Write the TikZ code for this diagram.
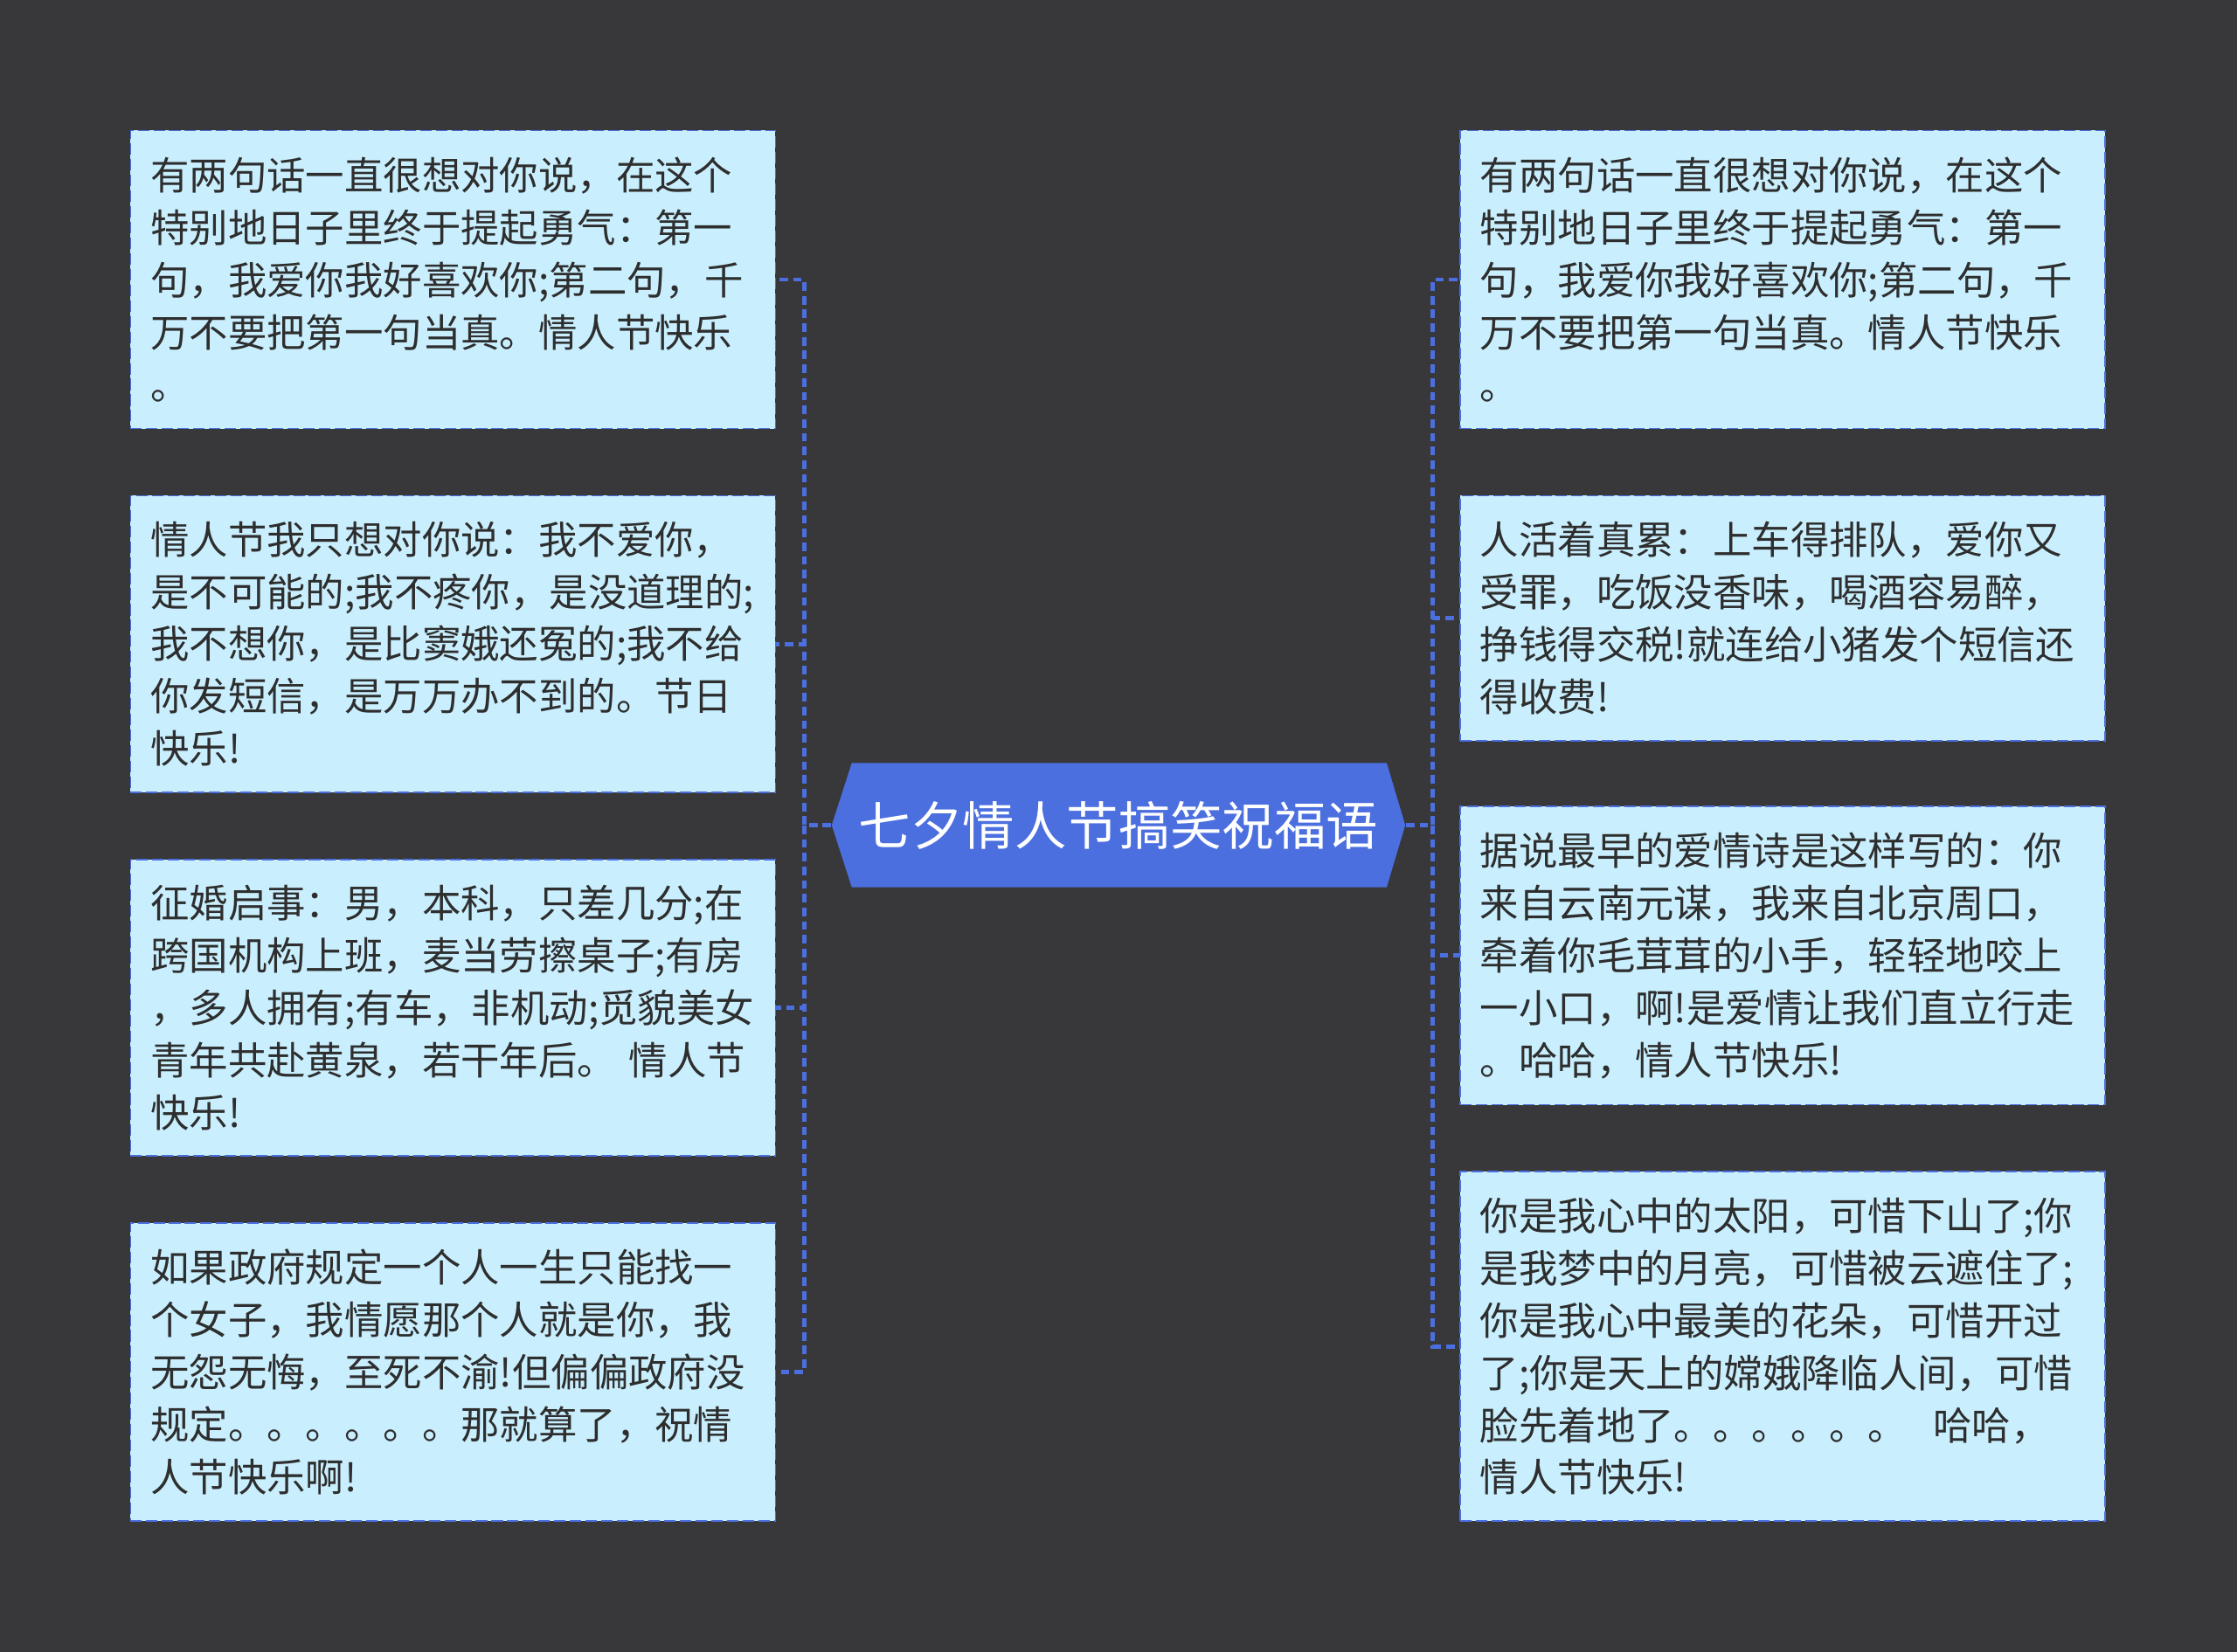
\documentclass[tikz,border=0pt]{standalone}
\usepackage{fontspec}
\setmainfont{Noto Sans CJK SC}
\usetikzlibrary{positioning}
\definecolor{canvasgray}{HTML}{38373A}
\definecolor{memofill}{HTML}{C9EFFE}
\definecolor{twigblue}{HTML}{4B6FDE}
\definecolor{rootblue}{HTML}{4C6FE0}
\definecolor{memoink}{HTML}{2E2E2E}

\begin{document}
\begin{tikzpicture}[x=0.5pt,y=-0.5pt,
 memobox/.style={draw=twigblue,line width=.5pt,dash pattern=on 4pt off 1.5pt,fill=memofill,text=memoink,
  anchor=north west,minimum width=226pt,text width=212pt,inner xsep=7pt,inner ysep=0pt,align=left,
  font=\fontsize{13.6}{18.35}\selectfont},
 twig/.style={draw=twigblue,line width=1.5pt,dash pattern=on 3pt off 1.8pt},
 roottext/.style={text=white,minimum width=201pt,minimum height=43.5pt,inner sep=0pt,
  font=\fontsize{18.2}{22}\selectfont}]
\useasboundingbox (0,0) rectangle (1568,1158);
\fill[canvasgray] (0,0) rectangle (1568,1158);
% centre
\fill[rootblue] (583,578.5) -- (597,535) -- (972,535) -- (985,578.5) -- (972,622) -- (597,622) -- cycle;
\node[roottext] (root) at (784,578.5) {七夕情人节搞笑祝福语};
% left side
\node[memobox,minimum height=104.5pt] (l1) at (91,91) {有两句话一直很想对你说，在这个\\特别地日子里终于提起勇气：第一\\句，我爱你我好喜欢你;第二句，千\\万不要把第一句当真。情人节快乐\\。};
\node[memobox,minimum height=104pt] (l2) at (91,347) {情人节我只想对你说：我不爱你，\\是不可能的;我不疼你，是没道理的;\\我不想你，是比窦娥还冤的;我不给\\你发短信，是万万办不到的。节日\\快乐!};
\node[memobox,minimum height=104pt] (l3) at (91,602) {征婚启事：男，本科，只差几分;在\\跨国机构上班，麦当劳擦桌子;有房\\，多人拥有;有车，非机动;觅貌美女\\青年共赴黄泉，若干年后。 情人节\\快乐!};
\node[memobox,minimum height=104.5pt] (l4) at (91,857) {如果政府规定一个人一生只能找一\\个女子，我情愿那个人就是你，我\\无怨无悔，至死不渝!但偏偏政府没\\规定。。。。。。那就算了，祝情\\人节快乐啊!};
% right side
\node[memobox,minimum height=104.5pt] (r1) at (1023,91) {有两句话一直很想对你说，在这个\\特别地日子里终于提起勇气：第一\\句，我爱你我好喜欢你;第二句，千\\万不要把第一句当真。情人节快乐\\。};
\node[memobox,minimum height=86pt] (r2) at (1023,347) {人活着真累：上车得排队，爱你又\\受罪，吃饭没香味，喝酒容易醉，\\挣钱得交税!就连给小猪发个短信还\\得收费!};
\node[memobox,minimum height=104.5pt] (r3) at (1023,565) {据说最早的爱情诗是这样写的：你\\来自云南元谋，我来自北京周口，\\牵着你毛茸茸的小手，轻轻地咬上\\一小口，啊!是爱情让我们直立行走\\。哈哈，情人节快乐!};
\node[memobox,minimum height=122.5pt] (r4) at (1023,821) {你是我心中的太阳，可惜下山了;你\\是我梦中的月亮，可惜被云遮住了;\\你是我心中最美的花朵，可惜开过\\了;你是天上的嫦娥降临人间，可惜\\脸先着地了。。。。。。\hspace{0.68em}哈哈，\\情人节快乐!};
% connectors
\foreach \n in {l1,l2,l3,l4}
 \draw[twig] (root.west) -- ++(-19,0) |- (\n.east);
\foreach \n in {r1,r2,r3,r4}
 \draw[twig] (root.east) -- ++(19,0) |- (\n.west);
\end{tikzpicture}
\end{document}
